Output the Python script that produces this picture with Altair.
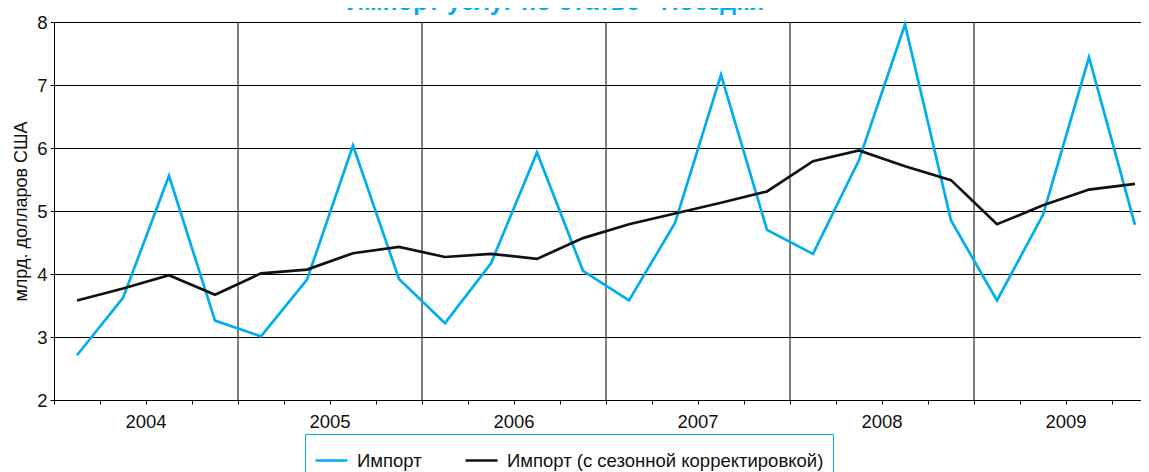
import altair as alt
import pandas as pd

# ---- data ----
quarters = list(range(24))  # Q1 2004 ... Q4 2009
import_vals = [2.71, 3.62, 5.56, 3.26,
               3.01, 3.91, 6.04, 3.92,
               3.22, 4.17, 5.93, 4.05,
               3.58, 4.81, 7.16, 4.70,
               4.32, 5.81, 7.96, 4.85,
               3.58, 4.94, 7.44, 4.78]
sa_vals = [3.58, 3.77, 3.98, 3.67,
           4.01, 4.07, 4.33, 4.43,
           4.27, 4.32, 4.24, 4.57,
           4.79, 4.96, 5.13, 5.31,
           5.79, 5.96, 5.71, 5.49,
           4.79, 5.09, 5.34, 5.43]
years = ["2004", "2005", "2006", "2007", "2008", "2009"]
series_names = ["Импорт", "Импорт (с сезонной корректировкой)"]
series_colors = ["#00AEEF", "#111111"]
y_ticks = [2, 3, 4, 5, 6, 7, 8]
title_text = "Импорт услуг по статье «Поездки»"
y_title = "млрд. долларов США"

FONT = "Liberation Sans"

rows = []
for q, v in zip(quarters, import_vals):
    rows.append({"x": q + 0.5, "v": v, "series": series_names[0]})
for q, v in zip(quarters, sa_vals):
    rows.append({"x": q + 0.5, "v": v, "series": series_names[1]})
df = pd.DataFrame(rows)

year_df = pd.DataFrame({"year": years, "xc": [4 * i + 2 for i in range(len(years))]})
bound_df = pd.DataFrame({"b": [4 * i for i in range(1, len(years))]})
title_df = pd.DataFrame({"t": [title_text]})

xscale = alt.Scale(domain=[0, 24], nice=False, zero=False)
yscale = alt.Scale(domain=[2, 8], nice=False, zero=False)

x_axis = alt.Axis(values=list(range(25)), labels=False, grid=False, title=None,
                  tickSize=4, tickColor="#000", domainColor="#000", tickWidth=1, domainWidth=1)
y_axis = alt.Axis(values=y_ticks, grid=True, gridColor="#000", gridWidth=1, gridOpacity=1,
                  tickSize=4, tickColor="#000", domainColor="#000",
                  labelFont=FONT, labelFontSize=18.5, labelColor="#111", labelPadding=3,
                  title=y_title, titleFont=FONT, titleFontSize=18, titleFontWeight="normal",
                  titleColor="#111", titlePadding=6)

rules = alt.Chart(bound_df).mark_rule(color="#000", strokeWidth=1).encode(
    x=alt.X("b:Q", scale=xscale, axis=x_axis)
)

lines = alt.Chart(df).mark_line(strokeWidth=2.7).encode(
    x=alt.X("x:Q", scale=xscale, axis=x_axis),
    y=alt.Y("v:Q", scale=yscale, axis=y_axis),
    color=alt.Color("series:N",
                    scale=alt.Scale(domain=series_names, range=series_colors),
                    sort=series_names,
                    legend=alt.Legend(orient="none", legendX=251, legendY=412,
                                      direction="horizontal", title=None,
                                      symbolType="stroke", symbolSize=1024, symbolStrokeWidth=2.7,
                                      labelFont=FONT, labelFontSize=18.5, labelColor="#111",
                                      labelOffset=8, labelLimit=600, columnPadding=38,
                                      strokeColor="#00AEEF", padding=9)),
)

year_text = alt.Chart(year_df).mark_text(font=FONT, fontSize=18.5, color="#111",
                                          baseline="middle", align="center").encode(
    x=alt.X("xc:Q", scale=xscale, axis=x_axis),
    y=alt.value(399.5),
    text="year:N",
)

title_mark = alt.Chart(title_df).mark_text(font=FONT, fontSize=25, fontWeight="bold",
                                           color="#00AEEF", baseline="alphabetic",
                                           align="center").encode(
    x=alt.value(508),
    y=alt.value(-12),
    text="t:N",
)

chart = alt.layer(rules, lines, year_text, title_mark).properties(
    width=1104, height=378,
    autosize=alt.AutoSizeParams(type="none"),
    padding={"left": 46, "top": 14, "right": -17, "bottom": 72},
).configure_view(stroke=None).configure(background="white")

chart.save("out.html", embed_options={"renderer": "svg", "actions": False})
